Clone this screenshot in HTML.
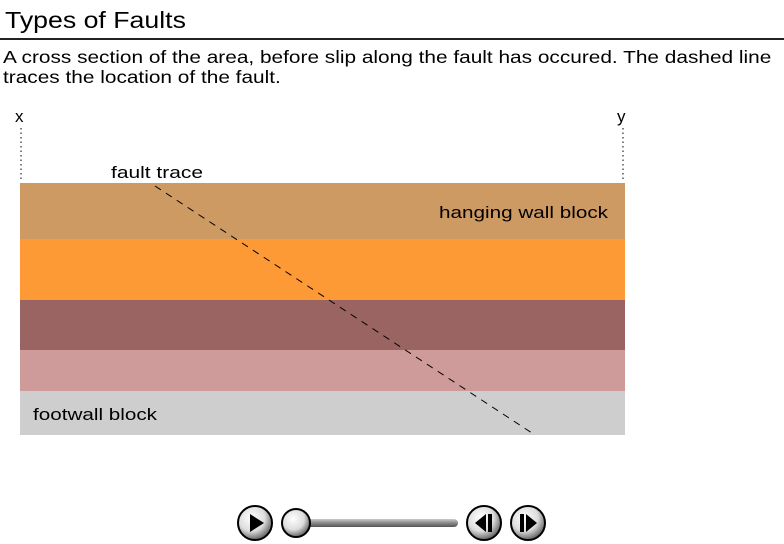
<!DOCTYPE html>
<html><head><meta charset="utf-8"><style>
body{margin:0;width:784px;height:544px;background:#fff;overflow:hidden;font-family:"Liberation Sans",sans-serif;position:relative}
.t{position:absolute;white-space:nowrap;color:#000;transform-origin:0 0}
</style></head><body>
<div class="t" style="left:5px;top:7px;font-size:23px;transform:scaleX(1.16)">Types of Faults</div>
<div style="position:absolute;left:0;top:38px;width:784px;height:2px;background:#222"></div>
<div class="t" style="left:3px;top:47px;font-size:17.5px;line-height:20px;transform:scaleX(1.19)">A cross section of the area, before slip along the fault has occured. The dashed line<br>traces the location of the fault.</div>
<svg width="784" height="544" style="position:absolute;left:0;top:0">
<defs>
<radialGradient id="bg" cx="40%" cy="35%" r="65%"><stop offset="0" stop-color="#fff"/><stop offset="0.6" stop-color="#ddd"/><stop offset="1" stop-color="#666"/></radialGradient>
<linearGradient id="tr" x1="0" y1="0" x2="0" y2="1"><stop offset="0" stop-color="#ccc"/><stop offset="0.5" stop-color="#888"/><stop offset="1" stop-color="#555"/></linearGradient>
</defs>
<text x="15" y="122" font-size="17" font-family="Liberation Sans">x</text>
<text x="617" y="122" font-size="17" font-family="Liberation Sans">y</text>
<line x1="21" y1="128" x2="21" y2="182" stroke="#000" stroke-dasharray="1.5 3"/>
<line x1="623" y1="128" x2="623" y2="182" stroke="#000" stroke-dasharray="1.5 3"/>
<rect x="20" y="183" width="605" height="56" fill="#CE9A63"/>
<rect x="20" y="239" width="605" height="61" fill="#FD9A35"/>
<rect x="20" y="300" width="605" height="50" fill="#9A6462"/>
<rect x="20" y="350" width="605" height="41" fill="#CE9A9A"/>
<rect x="20" y="391" width="605" height="44" fill="#CECECE"/>
<line x1="155" y1="186" x2="535" y2="435" stroke="#000" stroke-dasharray="7 6"/>
<text x="111" y="178" font-size="17" font-family="Liberation Sans" textLength="92" lengthAdjust="spacingAndGlyphs">fault trace</text>
<text x="439" y="218" font-size="17" font-family="Liberation Sans" textLength="169" lengthAdjust="spacingAndGlyphs">hanging wall block</text>
<text x="33" y="420" font-size="17" font-family="Liberation Sans" textLength="124" lengthAdjust="spacingAndGlyphs">footwall block</text>
<rect x="296" y="519" width="162" height="8" rx="4" fill="url(#tr)"/>
<g><circle cx="255" cy="523" r="17" fill="url(#bg)" stroke="#000" stroke-width="2"/><polygon points="250,514 250,532 264,523" fill="#000"/></g>
<circle cx="296" cy="523" r="14" fill="url(#bg)" stroke="#000" stroke-width="2"/>
<g><circle cx="484" cy="523" r="17" fill="url(#bg)" stroke="#000" stroke-width="2"/><polygon points="486,514 486,532 475,523" fill="#000"/><rect x="488" y="514" width="4" height="18" fill="#000"/></g>
<g><circle cx="528" cy="523" r="17" fill="url(#bg)" stroke="#000" stroke-width="2"/><rect x="520" y="514" width="4" height="18" fill="#000"/><polygon points="526,514 526,532 537,523" fill="#000"/></g>
</svg>
</body></html>
